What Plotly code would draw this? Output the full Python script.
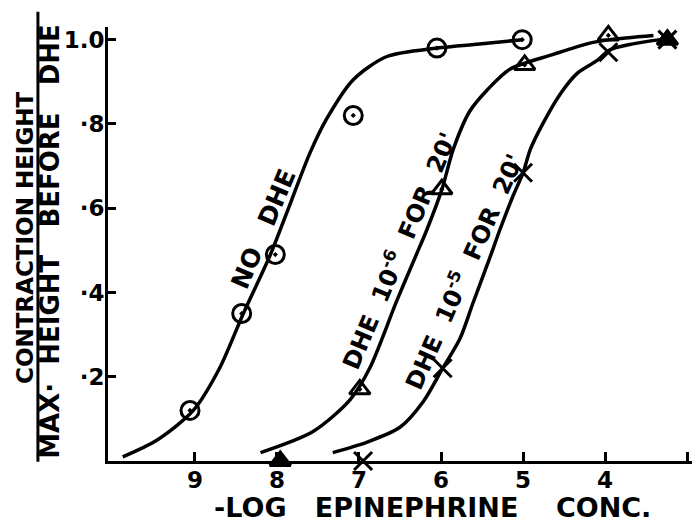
import plotly.graph_objects as go

# ---- data ----
# measured points
no_dhe_x = [9.06, 8.43, 8.02, 7.07, 6.05, 5.01]
no_dhe_y = [0.12, 0.35, 0.49, 0.82, 0.98, 1.00]

dhe6_x = [7.96, 6.99, 5.99, 4.98, 3.96, 3.24]
dhe6_y = [0.00, 0.17, 0.645, 0.94, 1.01, 1.00]

dhe5_x = [6.95, 5.98, 5.00, 3.96, 3.24]
dhe5_y = [0.00, 0.22, 0.684, 0.97, 1.00]

# hand-drawn fitted curves
no_dhe_curve_x = [9.88, 9.46, 9.02, 8.70, 8.41, 8.08, 7.82, 7.60, 7.40, 7.07, 6.66, 6.05, 5.50, 5.01]
no_dhe_curve_y = [0.01, 0.05, 0.12, 0.22, 0.35, 0.49, 0.62, 0.73, 0.81, 0.905, 0.96, 0.98, 0.99, 1.00]

dhe6_curve_x = [8.20, 7.56, 7.11, 6.87, 6.54, 6.30, 6.17, 5.99, 5.85, 5.65, 5.44, 5.16, 4.63, 4.22, 3.94, 3.41]
dhe6_curve_y = [0.02, 0.07, 0.145, 0.22, 0.38, 0.49, 0.55, 0.644, 0.74, 0.83, 0.88, 0.93, 0.965, 0.99, 1.00, 1.01]

dhe5_curve_x = [7.32, 6.90, 6.50, 6.22, 5.98, 5.77, 5.61, 5.40, 5.28, 5.12, 5.00, 4.91, 4.76, 4.55, 4.34, 4.10, 3.94, 3.66, 3.33]
dhe5_curve_y = [0.02, 0.045, 0.08, 0.14, 0.22, 0.29, 0.375, 0.485, 0.55, 0.63, 0.684, 0.74, 0.80, 0.87, 0.92, 0.95, 0.976, 0.99, 1.00]

x_ticks = [9, 8, 7, 6, 5, 4, 3]
x_ticktext = ["9", "8", "7", "6", "5", "4", "3"]
y_ticks = [0.2, 0.4, 0.6, 0.8, 1.0]
y_ticktext = ["·2", "·4", "·6", "·8", "1.0"]

FONT = "DejaVu Sans"
INK = "black"
SP = "\u00a0"

fig = go.Figure()

for cx, cy in [(no_dhe_curve_x, no_dhe_curve_y),
               (dhe6_curve_x, dhe6_curve_y),
               (dhe5_curve_x, dhe5_curve_y)]:
    fig.add_trace(go.Scatter(x=cx, y=cy, mode="lines",
                             line=dict(color=INK, width=3.5, shape="spline", smoothing=0.8),
                             hoverinfo="skip", showlegend=False))

fig.add_trace(go.Scatter(x=no_dhe_x, y=no_dhe_y, mode="markers", cliponaxis=False,
                         marker=dict(symbol="circle-open-dot", size=18, color=INK,
                                     line=dict(width=3, color=INK)),
                         showlegend=False))
fig.add_trace(go.Scatter(x=dhe6_x, y=dhe6_y, mode="markers", cliponaxis=False,
                         marker=dict(symbol=["triangle-up"] + ["triangle-up-open-dot"] * 4 + ["triangle-up"],
                                     size=18, color=INK,
                                     line=dict(width=3, color=INK)),
                         showlegend=False))
fig.add_trace(go.Scatter(x=dhe5_x, y=dhe5_y, mode="markers", cliponaxis=False,
                         marker=dict(symbol="x-thin-open", size=18, color=INK,
                                     line=dict(width=3, color=INK)),
                         showlegend=False))

tickfont = dict(family=FONT, size=23, color=INK, weight="bold")
fig.update_xaxes(range=[10.06, 2.94], tickvals=x_ticks, ticktext=x_ticktext,
                 showline=True, linecolor=INK, linewidth=3, ticks="inside",
                 ticklen=9, tickwidth=3, tickcolor=INK, showgrid=False, zeroline=False,
                 tickfont=tickfont, ticklabelstandoff=-4, automargin=False)
fig.update_yaxes(range=[0, 1.03], tickvals=y_ticks, ticktext=y_ticktext,
                 showline=True, linecolor=INK, linewidth=3, ticks="inside",
                 ticklen=8, tickwidth=3, tickcolor=INK, showgrid=False, zeroline=False,
                 tickfont=tickfont, ticklabelstandoff=-4, automargin=False)

fig.add_annotation(x=8.17, y=0.55, xref="x", yref="y", text="NO" + SP * 3 + "DHE", textangle=-67,
                   showarrow=False, font=dict(family=FONT, size=25, color=INK, weight="bold"))
labfont = dict(family=FONT, size=24, color=INK, weight="bold")
fig.add_annotation(x=6.52, y=0.50, xref="x", yref="y",
                   text="DHE" + SP * 2 + "10<sup>-6</sup>" + SP * 2 + "FOR" + SP * 2 + "20'", textangle=-67,
                   showarrow=False, font=labfont)
fig.add_annotation(x=5.73, y=0.45, xref="x", yref="y",
                   text="DHE" + SP * 2 + "10<sup>-5</sup>" + SP * 2 + "FOR" + SP * 2 + "20'", textangle=-66,
                   showarrow=False, font=labfont)

# axis titles
fig.add_annotation(x=0, y=0.514, xref="paper", yref="paper", text="CONTRACTION HEIGHT",
                   textangle=-90, showarrow=False, xanchor="center", yanchor="middle",
                   xshift=-83, font=dict(family=FONT, size=23, color=INK, weight="bold"))
fig.add_annotation(x=0, y=0.505, xref="paper", yref="paper",
                   text="MAX·" + SP * 2 + "HEIGHT" + SP * 3 + "BEFORE" + SP * 3 + "DHE",
                   textangle=-90, showarrow=False, xanchor="center", yanchor="middle",
                   xshift=-58, font=dict(family=FONT, size=26, color=INK, weight="bold"))
fig.add_shape(type="line", xref="paper", yref="paper", x0=-0.12, x1=-0.12, y0=-0.002, y1=1.035,
              line=dict(color=INK, width=3))
fig.add_annotation(x=0.555, y=0, xref="paper", yref="paper",
                   text="-LOG" + SP * 3 + "EPINEPHRINE" + SP * 4 + "CONC.",
                   showarrow=False, xanchor="center", yanchor="middle", yshift=-46,
                   font=dict(family=FONT, size=27, color=INK, weight="bold"))

fig.update_layout(width=692, height=521, margin=dict(l=108, r=0, t=27, b=60),
                  plot_bgcolor="white", paper_bgcolor="white")

fig.write_html("out.html", config={"displayModeBar": False},
               post_script="document.body.style.margin='0';")
